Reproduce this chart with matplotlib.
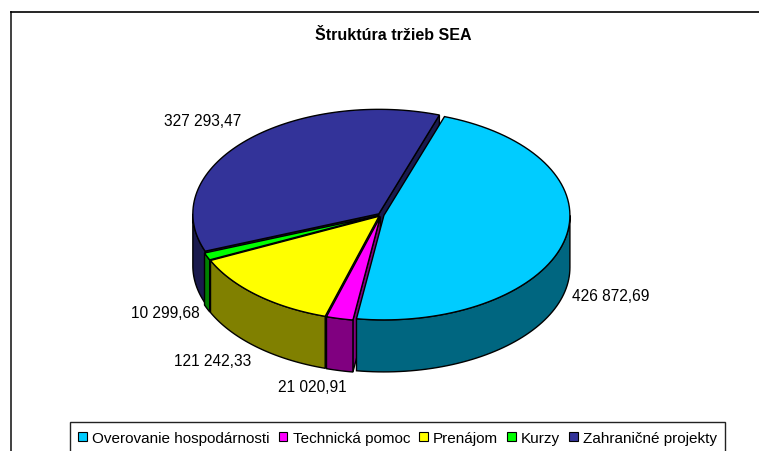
import numpy as np
import matplotlib
matplotlib.use('Agg')
import matplotlib.pyplot as plt
from matplotlib.patches import Polygon, Patch

plt.rcParams['font.family'] = ['Liberation Sans', 'DejaVu Sans']

categories = ['Overovanie hospodárnosti', 'Technická pomoc', 'Prenájom', 'Kurzy', 'Zahraničné projekty']
values = [426872.69, 21020.91, 121242.33, 10299.68, 327293.47]
value_labels = ['426 872,69', '21 020,91', '121 242,33', '10 299,68', '327 293,47']
top_colors = ['#00ccff', '#ff00ff', '#ffff00', '#00ff00', '#333399']
wall_colors = ['#006680', '#800080', '#808000', '#008000', '#1a1a4d']
label_pos = [(611, 297), (312, 388), (213, 362), (165, 314), (203, 122)]

# pie geometry, in pixels
cx, cy = 381, 216
rx, ry = 186, 104.5
depth = 52
start = 19
explode = 3


def pt(t, ox, oy):
    r = np.radians(t)
    return ox + rx * np.sin(r), oy - ry * np.cos(r)


fig = plt.figure(figsize=(7.59, 4.52), dpi=100)
ax = fig.add_axes([0, 0, 1, 1])
ax.set_xlim(0, 759)
ax.set_ylim(452, 0)
ax.axis('off')

# chart frame, runs off the bottom and the right
ax.plot([10.5, 10.5], [460, 12.5], color='#404040', lw=1.4)
ax.plot([10.5, 770], [12.5, 12.5], color='black', lw=1.2)

angles = np.array(values) / sum(values) * 360
edges = start + np.concatenate([[0], np.cumsum(angles)])

# back to front, so each slice hides what the one before it spills over
for z, i in enumerate([4, 3, 2, 1, 0]):
    a, b = edges[i], edges[i + 1]
    mid = np.radians((a + b) / 2)
    ox = cx + explode * np.sin(mid)
    oy = cy - explode * ry / rx * np.cos(mid)
    ts = np.linspace(a, b, 80)
    xs, ys = pt(ts, ox, oy)
    # side walls, only those facing the viewer
    for t, show in ((a, np.sin(np.radians(a)) < 0), (b, np.sin(np.radians(b)) > 0)):
        if show:
            x, y = pt(t, ox, oy)
            ax.add_patch(Polygon([(ox, oy), (x, y), (x, y + depth), (ox, oy + depth)],
                                 fc=wall_colors[i], ec='black', lw=1, zorder=2 + z))
    # outer wall, only the part facing front
    lo, hi = max(a, 90), min(b, 270)
    if hi > lo:
        tw = np.linspace(lo, hi, 60)
        wx, wy = pt(tw, ox, oy)
        ax.add_patch(Polygon(np.r_[np.c_[wx, wy], np.c_[wx, wy + depth][::-1]],
                             fc=wall_colors[i], ec='black', lw=1, zorder=2 + z))
    ax.add_patch(Polygon(np.r_[[(ox, oy)], np.c_[xs, ys]], fc=top_colors[i],
                         ec='black', lw=1, zorder=2 + z))

for s, (x, y) in zip(value_labels, label_pos):
    ax.text(x, y, s, fontsize=11.2, ha='center', va='center', color='black')

ax.text(393, 36, 'Štruktúra tržieb SEA', fontsize=11.5, fontweight='bold', ha='center', va='center')

handles = [Patch(fc=c, ec='black', lw=0.8) for c in top_colors]
ax.legend(handles, categories, ncol=5, loc='lower left', bbox_to_anchor=(70 / 759, -2 / 452),
          fontsize=11, frameon=True, fancybox=False, edgecolor='#222222', framealpha=1,
          handlelength=0.55, handleheight=0.55, handletextpad=0.35, columnspacing=0.6,
          borderpad=0.55, borderaxespad=0)

fig.savefig('out.png', dpi=100)
